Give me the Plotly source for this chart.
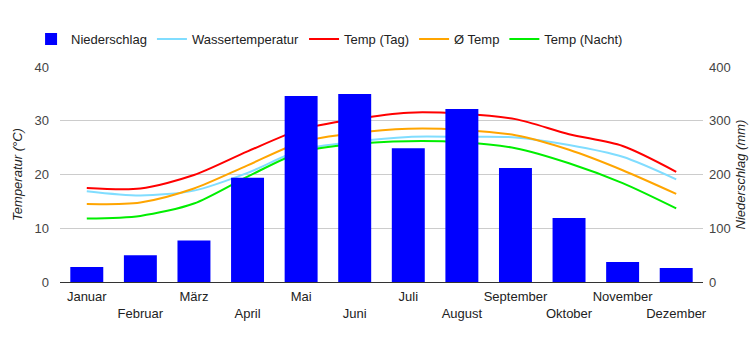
import plotly.graph_objects as go

months = ["Januar", "Februar", "März", "April", "Mai", "Juni", "Juli",
          "August", "September", "Oktober", "November", "Dezember"]
niederschlag = [28, 50, 77, 194, 346, 350, 249, 322, 212, 119, 37, 26]
wasser = [16.9, 16.1, 17.0, 20.3, 24.6, 26.1, 27.0, 27.0, 26.9, 25.5, 23.3, 19.1]
temp_tag = [17.5, 17.4, 19.9, 24.3, 28.4, 30.3, 31.5, 31.3, 30.3, 27.5, 25.3, 20.5]
temp_avg = [14.5, 14.8, 17.4, 21.7, 26.0, 27.7, 28.5, 28.3, 27.3, 24.6, 20.8, 16.4]
temp_nacht = [11.8, 12.3, 14.6, 19.6, 24.2, 25.7, 26.2, 26.0, 24.9, 22.1, 18.4, 13.7]

ticktext = [m if i % 2 == 0 else "<br>" + m for i, m in enumerate(months)]

FONT = "Liberation Sans Narrow, Arial Narrow, Liberation Sans, Arial, sans-serif"

fig = go.Figure()
fig.add_trace(go.Bar(x=months, y=niederschlag, name="Niederschlag",
                     marker=dict(color="#0000FF", line=dict(width=0)),
                     yaxis="y2"))
line_specs = [
    ("Wassertemperatur", wasser, "#80DDFF"),
    ("Temp (Tag)", temp_tag, "#FF0000"),
    ("Ø Temp", temp_avg, "#FFA500"),
    ("Temp (Nacht)", temp_nacht, "#00EE00"),
]
for name, vals, col in line_specs:
    fig.add_trace(go.Scatter(x=months, y=vals, name=name, mode="lines",
                             line=dict(color=col, width=2, shape="spline", smoothing=0.8),
                             yaxis="y"))

fig.update_layout(
    width=750, height=350,
    margin=dict(l=60, r=47, t=67, b=68, autoexpand=False),
    paper_bgcolor="white", plot_bgcolor="white",
    font=dict(family=FONT, size=13, color="#222"),
    bargap=0.385,
    showlegend=True,
    legend=dict(orientation="h", x=-0.045, xanchor="left", y=1.13, yanchor="middle",
                font=dict(family=FONT, size=13, color="#222"), traceorder="normal",
                itemwidth=30),
    xaxis=dict(tickmode="array", tickvals=months, ticktext=ticktext, tickangle=0,
               showgrid=False, showline=True, linecolor="#333", linewidth=1,
               ticks="", tickfont=dict(family=FONT, size=13, color="#222"),
               ticklabelstandoff=2, automargin=False),
    yaxis=dict(range=[0, 40], dtick=10, showgrid=True, gridcolor="#cccccc",
               zeroline=False, showline=False, ticks="",
               tickfont=dict(family=FONT, size=13, color="#444"), ticklabelstandoff=10,
               automargin=False,
               title=dict(text="<i>Temperatur (°C)</i>",
                          font=dict(family=FONT, size=13, color="#222"), standoff=8)),
    yaxis2=dict(range=[0, 400], dtick=100, overlaying="y", side="right",
                showgrid=False, zeroline=False, showline=False, ticks="",
                tickfont=dict(family=FONT, size=13, color="#444"), ticklabelstandoff=5,
                automargin=False,
                title=dict(text="<i>Niederschlag (mm)</i>",
                           font=dict(family=FONT, size=13, color="#222"), standoff=6)),
)
fig.write_html("out.html")
